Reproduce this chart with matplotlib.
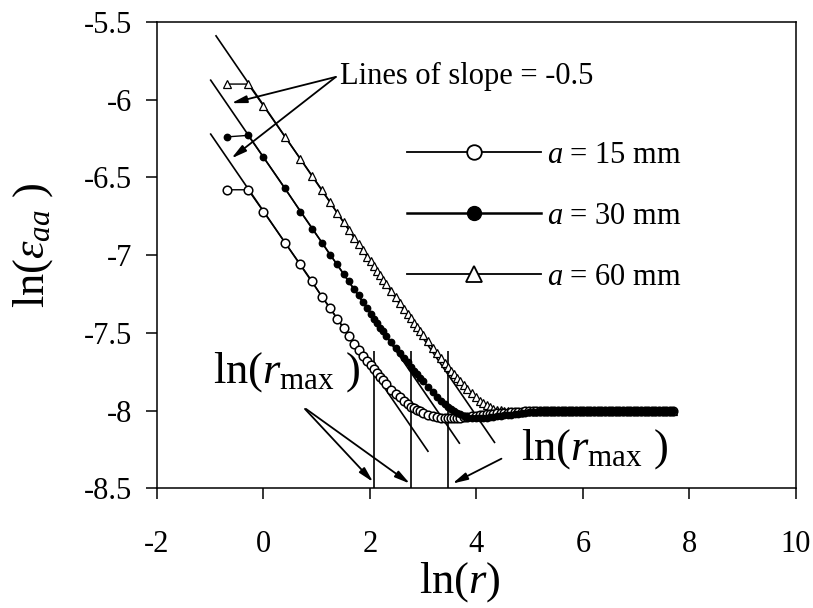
import numpy as np
import matplotlib
matplotlib.use("Agg")
import matplotlib.pyplot as plt
from matplotlib.lines import Line2D

plt.rcParams['font.family'] = 'Liberation Serif'
plt.rcParams['mathtext.fontset'] = 'custom'
plt.rcParams['mathtext.rm'] = 'Liberation Serif'
plt.rcParams['mathtext.it'] = 'Liberation Serif:italic'
plt.rcParams['axes.unicode_minus'] = False

# distance from the crack tip, mm
r = [0.5, 0.75, 1, 1.5, 2, 2.5, 3, 3.5, 4, 4.5,
     5, 5.5, 6, 6.5, 7, 7.5, 8, 8.5, 9, 9.5,
     10, 11, 12, 13, 14, 15, 16, 17, 18, 19,
     20, 22, 24, 26, 28, 30, 32, 34, 36, 38,
     40, 43, 46, 50, 54, 58, 62, 66, 70, 75,
     80, 86, 92, 98, 105, 112, 120, 128, 137, 147,
     157, 168, 180, 193, 206, 221, 236, 253, 270, 289,
     310, 331, 355, 380, 406, 435, 465, 498, 533, 570,
     610, 653, 698, 747, 800, 856, 916, 980, 1049, 1122,
     1201, 1285, 1375, 1471, 1574, 1684, 1802, 1928, 2063, 2200]

# ln(strain) for each crack length
eps_15 = [-6.58, -6.58, -6.72, -6.92, -7.06, -7.17, -7.27, -7.34, -7.41, -7.47,
          -7.52, -7.57, -7.61, -7.65, -7.68, -7.71, -7.735, -7.76, -7.785, -7.805,
          -7.827, -7.865, -7.895, -7.915, -7.94, -7.96, -7.975, -7.985, -7.995, -8.005,
          -8.015, -8.027, -8.037, -8.043, -8.048, -8.05, -8.05, -8.05, -8.05, -8.048,
          -8.046, -8.043, -8.04, -8.036, -8.033, -8.03, -8.027, -8.025, -8.022, -8.02,
          -8.018, -8.016, -8.015, -8.013, -8.011, -8.01, -8.008, -8.007, -8.006, -8.005,
          -8.003, -8.002, -8.0, -8.0, -8.0, -8.0, -8.0, -8.0, -8.0, -8.0,
          -8.0, -8.0, -8.0, -8.0, -8.0, -8.0, -8.0, -8.0, -8.0, -8.0,
          -8.0, -8.0, -8.0, -8.0, -8.0, -8.0, -8.0, -8.0, -8.0, -8.0,
          -8.0, -8.0, -8.0, -8.0, -8.0, -8.0, -8.0, -8.0, -8.0, -8.0]
eps_30 = [-6.24, -6.23, -6.37, -6.57, -6.72, -6.83, -6.92, -7.0, -7.06, -7.12,
          -7.17, -7.22, -7.26, -7.30, -7.34, -7.38, -7.41, -7.44, -7.47, -7.49,
          -7.52, -7.562, -7.598, -7.628, -7.66, -7.69, -7.717, -7.743, -7.767, -7.789,
          -7.81, -7.848, -7.882, -7.912, -7.938, -7.96, -7.978, -7.993, -8.005, -8.015,
          -8.023, -8.033, -8.04, -8.046, -8.05, -8.05, -8.048, -8.046, -8.043, -8.04,
          -8.037, -8.035, -8.032, -8.029, -8.026, -8.023, -8.02, -8.017, -8.015, -8.012,
          -8.009, -8.007, -8.004, -8.002, -8.0, -8.0, -8.0, -8.0, -8.0, -8.0,
          -8.0, -8.0, -8.0, -8.0, -8.0, -8.0, -8.0, -8.0, -8.0, -8.0,
          -8.0, -8.0, -8.0, -8.0, -8.0, -8.0, -8.0, -8.0, -8.0, -8.0,
          -8.0, -8.0, -8.0, -8.0, -8.0, -8.0, -8.0, -8.0, -8.0, -8.0]
eps_60 = [-5.90, -5.90, -6.04, -6.24, -6.38, -6.49, -6.58, -6.66, -6.73, -6.79,
          -6.84, -6.89, -6.93, -6.97, -7.01, -7.04, -7.07, -7.10, -7.13, -7.16,
          -7.185, -7.23, -7.272, -7.31, -7.345, -7.378, -7.408, -7.437, -7.464, -7.49,
          -7.513, -7.556, -7.595, -7.63, -7.662, -7.692, -7.72, -7.745, -7.768, -7.79,
          -7.81, -7.837, -7.862, -7.89, -7.915, -7.936, -7.953, -7.967, -7.978, -7.988,
          -7.995, -7.999, -8.003, -8.006, -8.007, -8.008, -8.008, -8.007, -8.006, -8.005,
          -8.004, -8.003, -8.002, -8.001, -8.0, -8.0, -8.0, -8.0, -8.0, -8.0,
          -8.0, -8.0, -8.0, -8.0, -8.0, -8.0, -8.0, -8.0, -8.0, -8.0,
          -8.0, -8.0, -8.0, -8.0, -8.0, -8.0, -8.0, -8.0, -8.0, -8.0,
          -8.0, -8.0, -8.0, -8.0, -8.0, -8.0, -8.0, -8.0, -8.0, -8.0]

# slope -0.5 fits: value at ln(r) = 0 and ln(r) range drawn (15, 30, 60 mm)
fit_c = [-6.717, -6.37, -6.035]
fit_x0 = [-0.99, -0.99, -0.89]
fit_x1 = [3.09, 3.68, 4.34]

# r_max for each crack length, mm
r_max = [8, 16, 32]
rmax_top = -7.62

xticks = [-2, 0, 2, 4, 6, 8, 10]
yticks = [-5.5, -6, -6.5, -7, -7.5, -8, -8.5]

fig = plt.figure(figsize=(8.13, 6.08), dpi=100)
ax = fig.add_axes([0.193, 0.197, 0.786, 0.767])

lnr = np.log(r)

# slope lines
for c, x0, x1 in zip(fit_c, fit_x0, fit_x1):
    xs = np.array([x0, x1])
    ax.plot(xs, c - 0.5 * xs, color='black', lw=1.2, zorder=2)

# vertical markers at ln(r_max)
ax.vlines(np.log(r_max), -8.5, rmax_top, color='black', lw=1.2, zorder=2)

ax.plot(lnr, eps_60, color='black', lw=1.0, marker='^', ms=5.5,
        mfc='white', mec='black', mew=0.9, zorder=3)
ax.plot(lnr, eps_15, color='black', lw=1.0, marker='o', ms=6.2,
        mfc='white', mec='black', mew=1.1, zorder=4)
ax.plot(lnr, eps_30, color='black', lw=1.0, marker='o', ms=4.6,
        mfc='black', mec='black', zorder=5)

handles = [
    Line2D([], [], color='black', lw=1.3, marker='o', ms=10.5, mfc='white', mec='black', mew=1.3),
    Line2D([], [], color='black', lw=1.8, marker='o', ms=10, mfc='black', mec='black'),
    Line2D([], [], color='black', lw=1.3, marker='^', ms=12, mfc='white', mec='black', mew=1.3),
]
labels = ['$a$ = 15 mm', '$a$ = 30 mm', '$a$ = 60 mm']
ax.legend(handles, labels, loc='upper left', bbox_to_anchor=(0.391, 0.745),
          frameon=False, fontsize=22, handlelength=4.4, handletextpad=0.2,
          labelspacing=1.05, borderpad=0, borderaxespad=0)

arrow = dict(arrowstyle='-|>,head_length=0.9,head_width=0.22', color='black',
             lw=1.3, shrinkA=0, shrinkB=0)

ax.text(1.43, -5.854, 'Lines of slope = -0.5', fontsize=22, va='center', ha='left')
ax.annotate('', xy=(-0.60, -6.023), xytext=(1.36, -5.854), arrowprops=arrow)
ax.annotate('', xy=(-0.60, -6.378), xytext=(1.36, -5.854), arrowprops=arrow)

ax.text(-0.95, -7.754, r'ln($r_{\rm max}$ )', fontsize=32, va='center', ha='left')
ax.annotate('', xy=(2.06, -8.46), xytext=(0.78, -7.99), arrowprops=arrow)
ax.annotate('', xy=(2.75, -8.47), xytext=(0.80, -7.99), arrowprops=arrow)

ax.text(4.84, -8.25, r'ln($r_{\rm max}$ )', fontsize=32, va='center', ha='left')
ax.annotate('', xy=(3.55, -8.47), xytext=(4.47, -8.31), arrowprops=arrow)

ax.set_xlim(-2, 10)
ax.set_ylim(-8.5, -5.5)
ax.set_xticks(xticks)
ax.set_xticklabels([f'{v:g}' for v in xticks])
ax.set_yticks(yticks)
ax.set_yticklabels([f'{v:g}' for v in yticks])
ax.tick_params(direction='out', length=8, width=1.1, labelsize=22)
ax.tick_params(axis='x', pad=22)
ax.tick_params(axis='y', pad=10)
for s in ax.spines.values():
    s.set_linewidth(1.1)

ax.set_xlabel('ln($r$)', fontsize=32)
ax.xaxis.set_label_coords(0.474, -0.155)
ax.set_ylabel(r'ln($\varepsilon_{aa}$ )', fontsize=32)
ax.yaxis.set_label_coords(-0.16, 0.52)

fig.savefig('out.png', dpi=100)
